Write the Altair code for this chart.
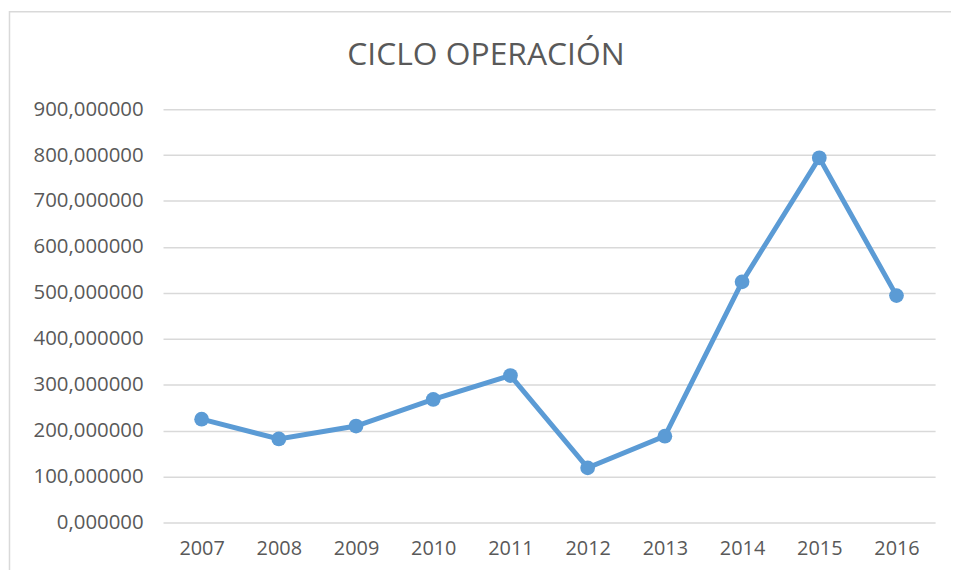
import altair as alt
import pandas as pd

years = ["2007", "2008", "2009", "2010", "2011", "2012", "2013", "2014", "2015", "2016"]
values = [225, 182, 210, 268, 320, 119, 188, 524, 794, 494]
title_text = ["CICLO OPERACIÓN"]

df = pd.DataFrame({"year": years, "value": values})

FONT = "Open Sans"
GRAY = "#595959"
BLUE = "#5B9BD5"

base = alt.Chart(df).encode(
    x=alt.X("year:N", sort=years, title=None,
            scale=alt.Scale(type="point", padding=0.5),
            axis=alt.Axis(labelAngle=0, ticks=False, domain=False, grid=False,
                          labelFont=FONT, labelFontSize=20, labelColor=GRAY,
                          labelPadding=16)),
    y=alt.Y("value:Q", title=None,
            scale=alt.Scale(domain=[0, 900], nice=False),
            axis=alt.Axis(values=[0, 100, 200, 300, 400, 500, 600, 700, 800, 900],
                          labelExpr="replace(format(datum.value, '.6f'), '.', ',')",
                          ticks=False, domain=False, grid=True,
                          gridColor="#d9d9d9", gridWidth=1.5,
                          labelFont=FONT, labelFontSize=20.5, labelColor=GRAY,
                          labelPadding=20)),
)

line = base.mark_line(color=BLUE, strokeWidth=5)
points = base.mark_circle(color=BLUE, size=220, opacity=1)

border = alt.Chart(alt.Data(values=[{"a": 1}])).mark_rect(
    fill=None, stroke="#d9d9d9", strokeWidth=1.5
).encode(
    x=alt.value(-154.5), x2=alt.value(850),
    y=alt.value(-98), y2=alt.value(500)
)

title = alt.Chart(pd.DataFrame({"t": title_text})).mark_text(
    font=FONT, fontSize=32, color=GRAY, align="center", baseline="alphabetic"
).encode(
    text="t:N", x=alt.value(325), y=alt.value(-44)
)

chart = alt.layer(border, line, points, title).properties(
    width=777,
    height=416,
    padding={"left": 156, "top": 100, "right": 16, "bottom": 46},
    autosize=alt.AutoSizeParams(type="none"),
    view=alt.ViewBackground(stroke=None, strokeWidth=0),
).configure_view(stroke=None, strokeWidth=0).configure_axis(domain=False).configure(background="white")

chart.save("out.html", embed_options={"renderer": "svg", "actions": False})
